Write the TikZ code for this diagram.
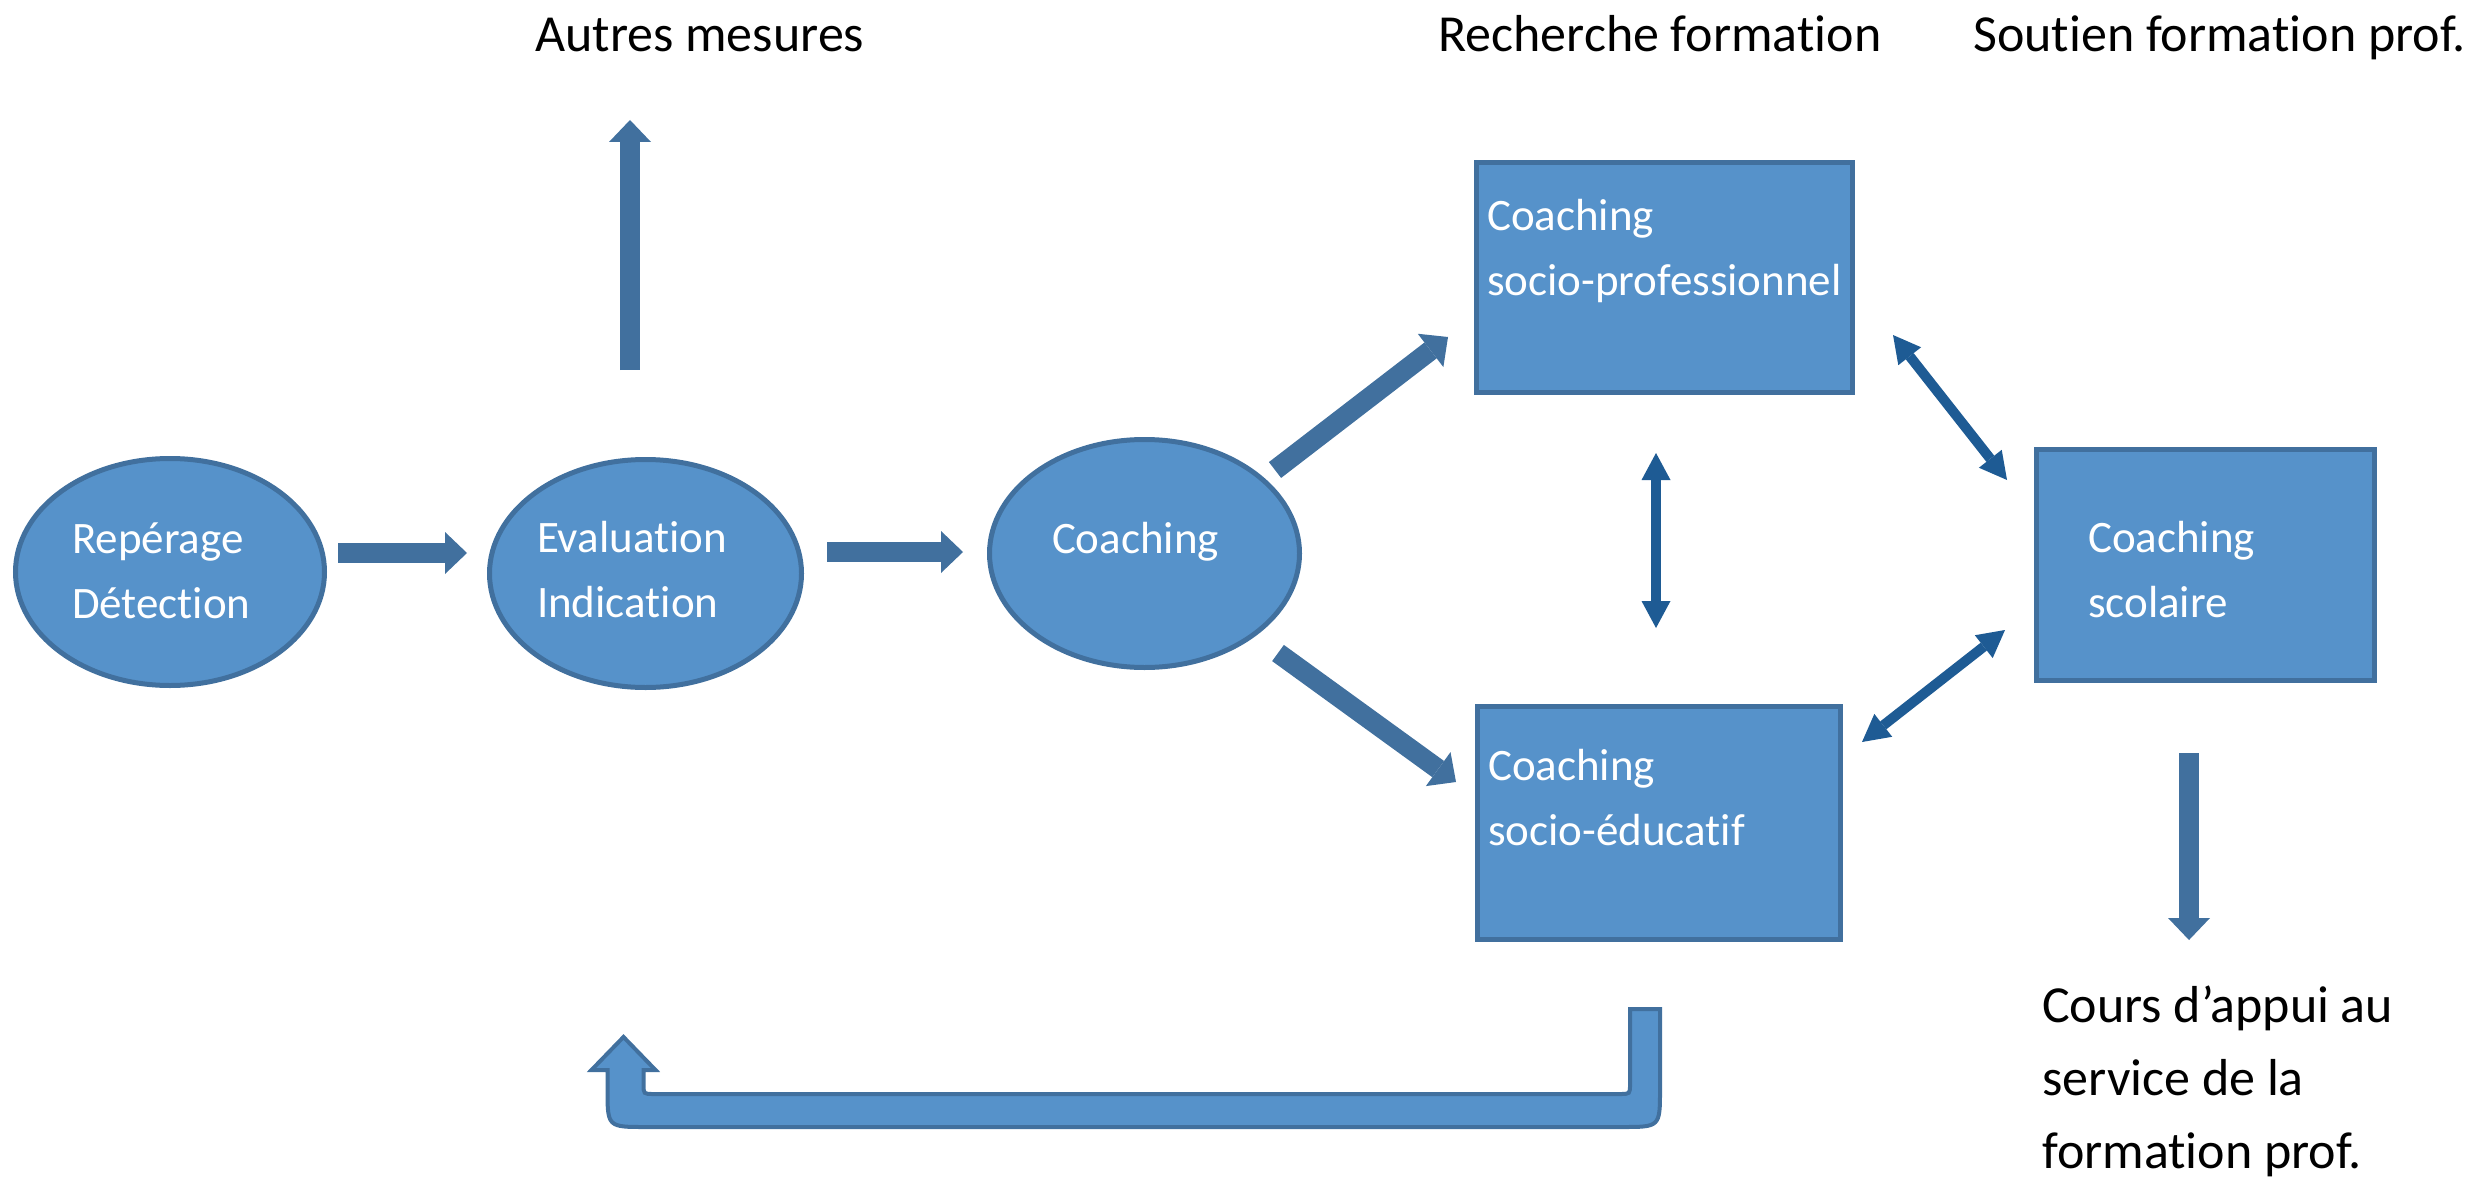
\documentclass[tikz,border=0pt]{standalone}
\usepackage{fontspec}
\setmainfont{Carlito}[Ligatures=NoCommon]
\usetikzlibrary{shapes.geometric,arrows.meta,calc}
\definecolor{shapefill}{RGB}{86,146,202}
\definecolor{shapeline}{RGB}{65,112,158}
\definecolor{arrowblue}{RGB}{65,112,158}
\definecolor{dblblue}{RGB}{30,91,148}
\begin{document}
\begin{tikzpicture}[x=1pt,y=-1pt,
  shp/.style={draw=shapeline, fill=shapefill, line width=5pt, text=white,
    font=\fontsize{45}{65}\selectfont, align=left, inner sep=0pt, text height=40pt},
  ell/.style={shp, ellipse},
  boxn/.style={shp, rectangle},
  outtext/.style={font=\fontsize{52}{73}\selectfont, text=black, inner sep=0pt, align=left},
  blockarrow/.style={draw=arrowblue, line width=20pt,
    -{Triangle[width=42pt,length=22pt,line width=0pt]}},
  dblarrow/.style={draw=dblblue, line width=10pt,
    {Triangle[width=29pt,length=27pt,line width=0pt]}-{Triangle[width=29pt,length=27pt,line width=0pt]}},
]
\useasboundingbox (0,0) rectangle (2483,1177);

% shapes
\node[ell, minimum width=309pt, minimum height=227pt, text width=196pt, text depth=78pt] (e1) at (170,572) {Repérage\\Détection};
\node[ell, minimum width=312pt, minimum height=228pt, text width=217pt, text depth=83pt] (e2) at (645.5,573.5) {Evaluation\\Indication};
\node[ell, minimum width=310pt, minimum height=228pt, text width=185pt, text depth=41pt] (e3) at (1144.5,553.5) {Coaching};
\node[boxn, minimum width=376pt, minimum height=230pt, text width=355pt, text depth=135pt] (pro) at (1664.5,277.5) {Coaching\\socio-professionnel};
\node[boxn, minimum width=363pt, minimum height=233pt, text width=342pt, text depth=126pt] (educ) at (1659,823) {Coaching\\socio-éducatif};
\node[boxn, minimum width=338pt, minimum height=231pt, text width=235pt, text depth=66pt] (sco) at (2205.5,565) {Coaching\\scolaire};

% outside texts
\node[outtext, anchor=base west] (autres) at (535,52) {Autres mesures};
\node[outtext, anchor=base west] (recherche) at (1438,52) {Recherche formation};
\node[outtext, anchor=base west] (soutien) at (1973,52) {Soutien formation prof.};
\node[outtext, anchor=base west] (cours) at (2042,1168) {Cours d’appui au\\service de la\\formation prof.};

% block arrows
\draw[blockarrow] ($(e1.east)+(11,-19)$) -- ($(e2.west)+(-20,-20.5)$);
\draw[blockarrow] ($(e2.east)+(23,-21.5)$) -- ($(e3.west)+(-24,-1.5)$);
\draw[blockarrow] ($(e2.north)+(-15.5,-87)$) -- ($(autres.base west)+(95,68)$);
\draw[blockarrow] ($(e3)+(130.5,-83.5)$) -- ($(pro.west)+(-26,59.5)$);
\draw[blockarrow] ($(e3)+(133.5,99.5)$) -- ($(educ.west)+(-19,-41)$);
\draw[blockarrow] ($(sco.south)+(-16.5,70)$) -- ($(cours.base west)+(147,-228)$);

% double arrows
\draw[dblarrow] ($(pro.south)+(-8.5,58)$) -- ($(educ.north)+(-3,-76)$);
\draw[dblarrow] ($(pro.east)+(38,57.5)$) -- ($(sco.west)+(-27,-85)$);
\draw[dblarrow] ($(sco.west)+(-29,65)$) -- ($(educ.east)+(19,-81)$);

% U-turn return arrow
\coordinate (ustart) at ($(educ.south)+(-14,67)$);
\coordinate (uend) at ($(e2.south)+(-22,347)$);
\filldraw[fill=shapefill, draw=shapeline, line width=4pt, line join=miter]
  let \p1=(ustart), \p2=(uend) in
  (\x1-15pt,\y1) -- (\x1+15pt,\y1) -- (\x1+15pt,\y1-80pt)
  .. controls (\x1+15pt,\y1-118pt) .. (\x1-23pt,\y1-118pt)
  -- (\x2+22pt,\y1-118pt)
  .. controls (\x2-16pt,\y1-118pt) .. (\x2-16pt,\y1-80pt)
  -- (\x2-16pt,\y2-33pt) -- (\x2-32pt,\y2-33pt) -- (\x2,\y2)
  -- (\x2+32pt,\y2-33pt) -- (\x2+20pt,\y2-33pt)
  -- (\x2+20pt,\y1-75pt)
  .. controls (\x2+20pt,\y1-85pt) .. (\x2+30pt,\y1-85pt)
  -- (\x1-25pt,\y1-85pt)
  .. controls (\x1-15pt,\y1-85pt) .. (\x1-15pt,\y1-75pt)
  -- cycle;
\end{tikzpicture}
\end{document}
